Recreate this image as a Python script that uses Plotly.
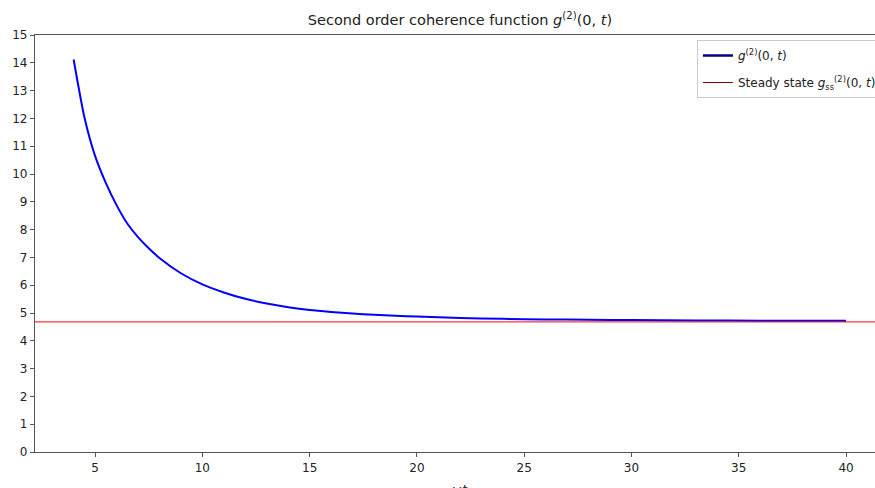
import plotly.graph_objects as go

# Data
t_values = [4, 4.5, 5, 5.5, 6, 6.5, 7, 7.5, 8, 9, 10, 11, 12, 13, 14, 15, 16, 17, 18, 19, 20,
            22, 24, 26, 28, 30, 33, 36, 40]
g2_values = [14.12, 12.05, 10.65, 9.68, 8.88, 8.22, 7.73, 7.33, 6.98, 6.43, 6.03, 5.74, 5.51,
             5.34, 5.21, 5.11, 5.04, 4.98, 4.935, 4.90, 4.87, 4.82, 4.79, 4.77, 4.755, 4.745,
             4.73, 4.725, 4.72]
steady_state = 4.68
x_range = [2.2, 41.35]
y_range = [0, 15]
x_ticks = [5, 10, 15, 20, 25, 30, 35, 40]
y_ticks = list(range(0, 16))

title_text = "Second order coherence function <i>g</i><sup>(2)</sup>(0, <i>t</i>)"
label_g2 = "<i>g</i><sup>(2)</sup>(0, <i>t</i>)"
label_ss = "Steady state <i>g</i><sub>ss</sub><sup>(2)</sup>(0, <i>t</i>)"

fig = go.Figure()

# visible curves
fig.add_trace(go.Scatter(x=t_values, y=g2_values, mode="lines",
                         line=dict(color="#0000ff", width=2, shape="spline", smoothing=0.6),
                         showlegend=False, hoverinfo="skip"))
fig.add_trace(go.Scatter(x=x_range, y=[steady_state, steady_state], mode="lines",
                         line=dict(color="#ff0000", width=1),
                         showlegend=False, hoverinfo="skip"))

# legend handles (colours as shown in the legend)
fig.add_trace(go.Scatter(x=[None], y=[None], mode="lines", legendgroup="a",
                         line=dict(color="#000080", width=2.5), name=label_g2))
fig.add_trace(go.Scatter(x=[None], y=[None], mode="lines", legendgroup="b",
                         line=dict(color="#800000", width=1), name=label_ss))

axis_common = dict(showgrid=False, zeroline=False, showline=True, linecolor="#555",
                   linewidth=1.2, ticks="outside", ticklen=4, tickcolor="#555",
                   tickfont=dict(family="DejaVu Sans", size=12, color="#222"))

fig.update_layout(
    width=875, height=488,
    margin=dict(l=35, r=0, t=35, b=36, autoexpand=False),
    paper_bgcolor="white", plot_bgcolor="white",
    font=dict(family="DejaVu Sans", color="#222"),
    title=dict(text=title_text, x=0.5257, xanchor="center", y=0.959, yanchor="middle",
               font=dict(family="DejaVu Sans", size=14.5, color="#222")),
    xaxis=dict(range=x_range, tickvals=x_ticks, mirror=True, **axis_common),
    yaxis=dict(range=y_range, tickvals=y_ticks, **axis_common),
    legend=dict(x=0.788, y=0.988, xanchor="left", yanchor="top",
                bgcolor="rgba(255,255,255,0.9)", bordercolor="#cccccc", borderwidth=1,
                font=dict(family="DejaVu Sans", size=12, color="#222"),
                itemwidth=30, tracegroupgap=8),
    annotations=[dict(text="<i>ωt</i>", xref="paper", yref="paper", x=0.505, y=0,
                      yshift=-28, xanchor="center", yanchor="top", showarrow=False,
                      font=dict(family="DejaVu Sans", size=13, color="#222"))],
)

fig.write_html("out.html", config={"displayModeBar": False},
               post_script="document.body.style.margin='0px';document.body.style.overflow='hidden';")
